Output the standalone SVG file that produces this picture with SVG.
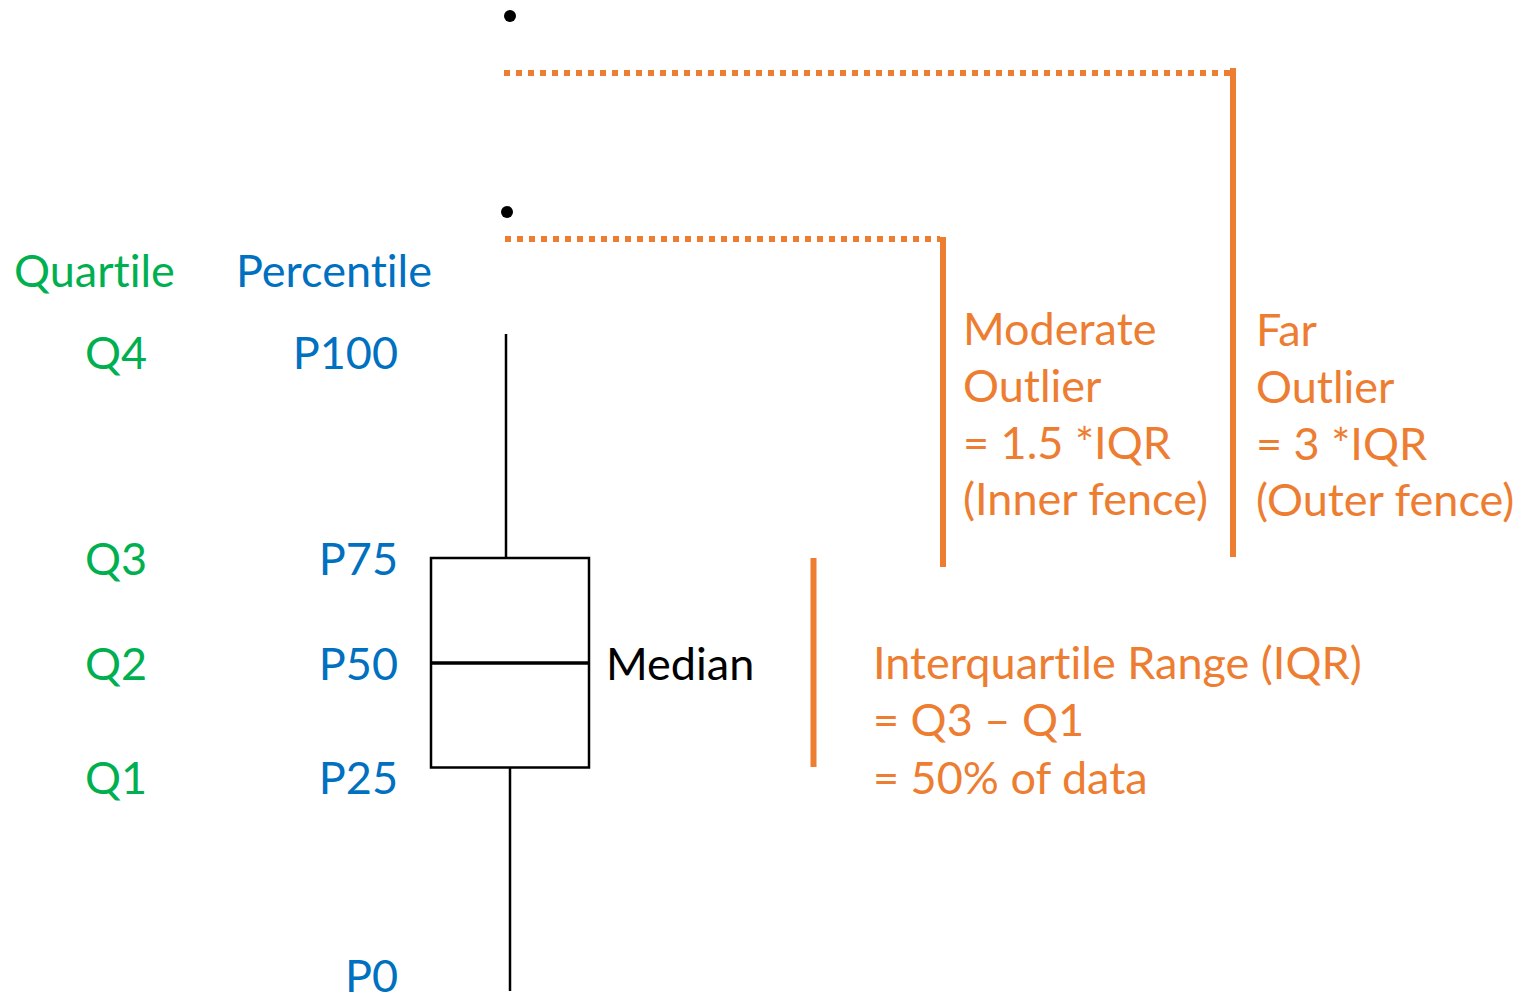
<svg xmlns="http://www.w3.org/2000/svg" width="1526" height="1002" viewBox="0 0 1526 1002">
<style>
text { font-family: Lato, "Open Sans", "Liberation Sans", sans-serif; font-size: 45px; font-variant-ligatures: none; font-feature-settings: "liga" 0, "dlig" 0; }
.q { fill: #00B050; }
.p { fill: #0070C0; text-anchor: end; }
.o { fill: #ED7D31; }
.k { fill: #000000; }
.dot { stroke: #ED7D31; stroke-width: 6; stroke-dasharray: 6 6; fill: none; }
.bar { stroke: #ED7D31; stroke-width: 6; fill: none; }
.blk { stroke: #000000; stroke-width: 2.5; fill: none; }
</style>
<rect width="1526" height="1002" fill="#ffffff"/>
<g id="labels-left">
  <text class="q" x="14" y="287">Quartile</text>
  <text class="p" x="432" y="287">Percentile</text>
  <text class="q" x="85" y="369">Q4</text>
  <text class="p" x="398" y="369">P100</text>
  <text class="q" x="85" y="575">Q3</text>
  <text class="p" x="398" y="575">P75</text>
  <text class="q" x="85" y="680">Q2</text>
  <text class="p" x="398" y="680">P50</text>
  <text class="q" x="85" y="794">Q1</text>
  <text class="p" x="398" y="794">P25</text>
  <text class="p" x="398" y="992">P0</text>
</g>
<g id="boxplot">
  <line class="blk" x1="506" y1="334" x2="506" y2="558"/>
  <rect class="blk" x="431" y="558" width="158" height="209.5"/>
  <line x1="431" y1="663" x2="589" y2="663" stroke="#000" stroke-width="3.5"/>
  <line class="blk" x1="510" y1="767.5" x2="510" y2="991"/>
  <circle cx="510" cy="16" r="6" fill="#000"/>
  <circle cx="507" cy="212" r="6" fill="#000"/>
</g>
<g id="median">
  <text class="k" x="606" y="680">Median</text>
</g>
<g id="connectors">
  <line class="dot" x1="504" y1="73" x2="1230" y2="73"/>
  <line class="bar" x1="1233" y1="68" x2="1233" y2="557"/>
  <line class="dot" x1="505" y1="239" x2="940" y2="239"/>
  <line class="bar" x1="943" y1="237" x2="943" y2="567" stroke-width="5.5"/>
  <line class="bar" x1="813.5" y1="558" x2="813.5" y2="767"/>
</g>
<g id="moderate-outlier">
  <text class="o" x="963" y="345">Moderate</text>
  <text class="o" x="963" y="402">Outlier</text>
  <text class="o" x="963" y="459">= 1.5 *IQR</text>
  <text class="o" x="963" y="515">(Inner fence)</text>
</g>
<g id="far-outlier">
  <text class="o" x="1256" y="346">Far</text>
  <text class="o" x="1256" y="403">Outlier</text>
  <text class="o" x="1256" y="460">= 3 *IQR</text>
  <text class="o" x="1256" y="516">(Outer fence)</text>
</g>
<g id="iqr">
  <text class="o" x="873" y="679">Interquartile Range (IQR)</text>
  <text class="o" x="873" y="736">= Q3 – Q1</text>
  <text class="o" x="873" y="794">= 50% of data</text>
</g>
</svg>
